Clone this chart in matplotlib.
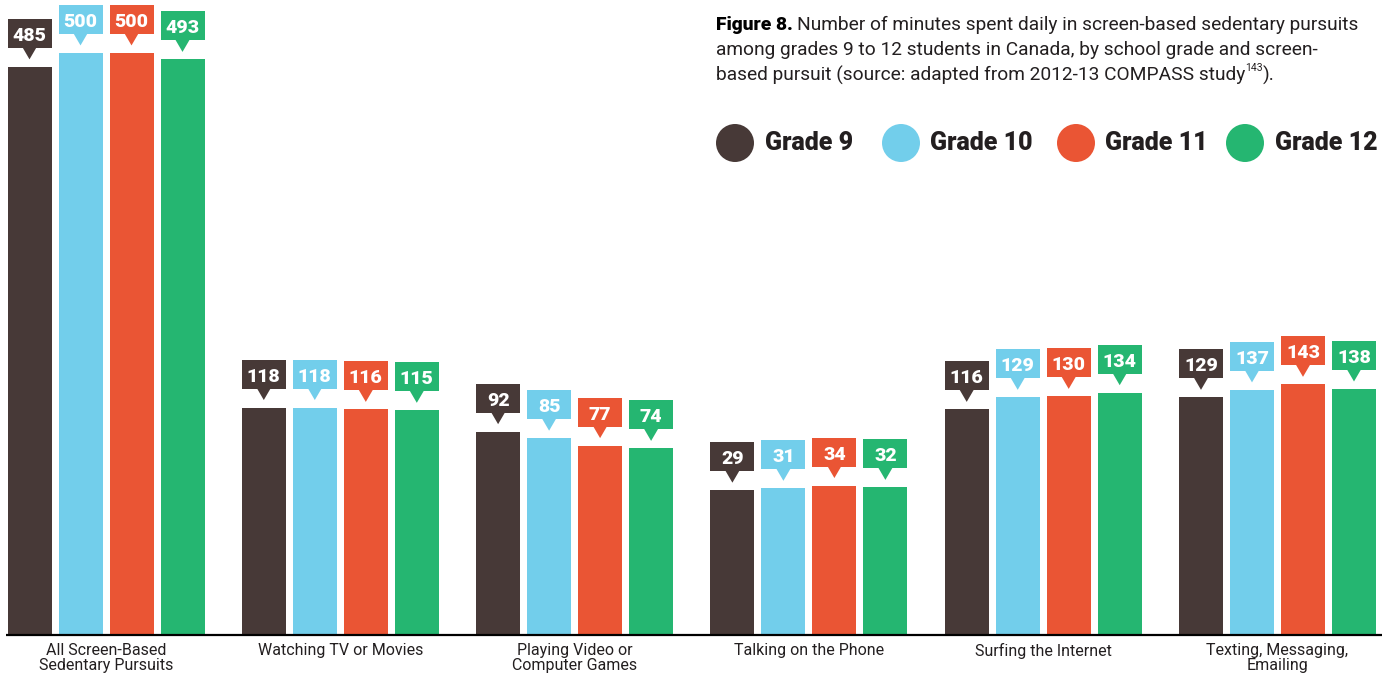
import matplotlib
matplotlib.use("Agg")
import matplotlib.pyplot as plt
from matplotlib.patches import Polygon, Rectangle, Ellipse
import numpy as np

# ---- data ----
categories = ["All Screen-Based\nSedentary Pursuits", "Watching TV or Movies",
              "Playing Video or\nComputer Games", "Talking on the Phone",
              "Surfing the Internet", "Texting, Messaging,\nEmailing"]
series_names = ["Grade 9", "Grade 10", "Grade 11", "Grade 12"]
grade9 = [485, 118, 92, 29, 116, 129]
grade10 = [500, 118, 85, 31, 129, 137]
grade11 = [500, 116, 77, 34, 130, 143]
grade12 = [493, 115, 74, 32, 134, 138]
series = [grade9, grade10, grade11, grade12]
colors = ["#473937", "#72CEEB", "#EA5534", "#25B671"]

# ---- layout ----
W, H = 1382, 675
DPI = 100
FONT = "Roboto"
TEXT_COL = "#231F20"

fig = plt.figure(figsize=(W / DPI, H / DPI), dpi=DPI)
base_px = 635  # baseline from top
ax = fig.add_axes([0, (H - base_px) / H, 1, base_px / H])
ax.set_axis_off()

group_px = 234.3
first_center = 106
xl = (-first_center / group_px, (W - first_center) / group_px)
y_bottom, y_top = -127, 557
ax.set_xlim(*xl)
ax.set_ylim(y_bottom, y_top)

pitch = 51 / group_px
bw = 44 / group_px
offsets = (np.arange(4) - 1.5) * pitch
px_per_unit = base_px / (y_top - y_bottom)


def py(p):
    return p / px_per_unit


x = np.arange(len(categories))
for s, (vals, col) in enumerate(zip(series, colors)):
    xs = x + offsets[s]
    ax.bar(xs, np.array(vals) - y_bottom, bottom=y_bottom, width=bw,
           color=col, linewidth=0, zorder=2)
    for xi, v in zip(xs, vals):
        # callout box
        box_bot = v + py(19)
        box_top = v + py(48)
        ax.add_patch(Rectangle((xi - bw / 2, box_bot), bw, box_top - box_bot,
                               facecolor=col, edgecolor="none", zorder=3))
        tw = 7 / group_px
        ax.add_patch(Polygon([(xi - tw, box_bot + py(0.5)), (xi + tw, box_bot + py(0.5)),
                              (xi, v + py(7.5))], closed=True,
                             facecolor=col, edgecolor="none", zorder=3))
        ax.text(xi, (box_bot + box_top) / 2 - py(0.5), str(v), ha="center",
                va="center_baseline", color="white", fontsize=14, fontweight="heavy",
                family=FONT, zorder=4)

# baseline
ax.plot([6 / group_px + xl[0], xl[1]], [y_bottom, y_bottom], color="black",
        lw=1.6, solid_capstyle="butt", zorder=5, clip_on=False)

# category labels
for xi, cat in zip(x, categories):
    fig.text((first_center + xi * group_px) / W, 1 - 643 / H, cat, ha="center", va="top",
             fontsize=11.5, family=FONT, color=TEXT_COL, linespacing=1.0)

# ---- title ----
fig.canvas.draw()
renderer = fig.canvas.get_renderer()
tx = 716 / W
tsize = 13.8
line_ys = [23, 48, 73]
t1 = fig.text(tx, 1 - line_ys[0] / H, "Figure 8.", ha="left", va="center_baseline",
              fontsize=tsize, fontweight="heavy", family=FONT, color="black")
bb = t1.get_window_extent(renderer)
fig.text(bb.x1 / W + 4 / W, 1 - line_ys[0] / H,
         "Number of minutes spent daily in screen-based sedentary pursuits",
         ha="left", va="center_baseline", fontsize=tsize, family=FONT, color=TEXT_COL)
fig.text(tx, 1 - line_ys[1] / H,
         "among grades 9 to 12 students in Canada, by school grade and screen-",
         ha="left", va="center_baseline", fontsize=tsize, family=FONT, color=TEXT_COL)
t3 = fig.text(tx, 1 - line_ys[2] / H,
              "based pursuit (source: adapted from 2012-13 COMPASS study",
              ha="left", va="center_baseline", fontsize=tsize, family=FONT, color=TEXT_COL)
bb3 = t3.get_window_extent(renderer)
t4 = fig.text(bb3.x1 / W, 1 - (line_ys[2] - 6) / H, "143", ha="left", va="center_baseline",
              fontsize=7.5, family=FONT, color=TEXT_COL)
bb4 = t4.get_window_extent(renderer)
fig.text(bb4.x1 / W, 1 - line_ys[2] / H, ").", ha="left", va="center_baseline",
         fontsize=tsize, family=FONT, color=TEXT_COL)

# ---- legend ----
leg_y = 143
circle_x = [735, 901, 1076, 1245]
label_x = [765, 930, 1105, 1275]
for cx, lx, name, col in zip(circle_x, label_x, series_names, colors):
    fig.add_artist(Ellipse((cx / W, 1 - leg_y / H), 38 / W, 38 / H,
                           transform=fig.transFigure, facecolor=col, edgecolor="none"))
    fig.text(lx / W, 1 - leg_y / H, name, ha="left", va="center", fontsize=18,
             fontweight="heavy", family=FONT, color=TEXT_COL)

fig.savefig("out.png", dpi=DPI, facecolor="white")
